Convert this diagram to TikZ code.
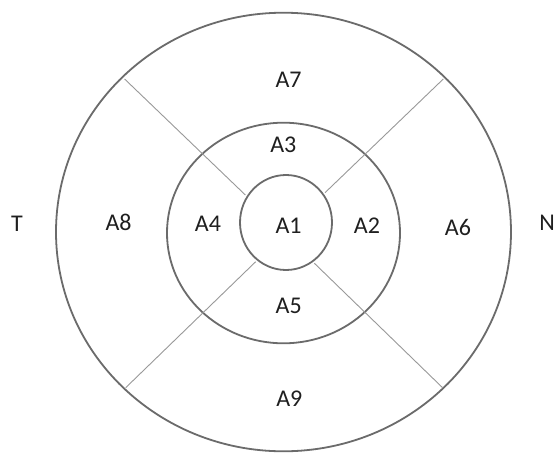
\documentclass[tikz,border=0pt]{standalone}
\usepackage{fontspec}
\setmainfont{Carlito}
\begin{document}
\begin{tikzpicture}[x=1pt,y=-1pt,
  ring/.style={draw=black!58,line width=1.8pt},
  divider/.style={draw=black!40,line width=0.9pt},
  lbl/.style={inner sep=0pt,text=black!88,font=\fontsize{24}{28}\selectfont}]
\useasboundingbox[fill=white] (0,0) rectangle (555,453);
% rings
\draw[ring] (283.5,232) ellipse [x radius=227.5pt, y radius=219.3pt];
\draw[ring] (283.5,233) ellipse [x radius=116.5pt, y radius=110.3pt];
\draw[ring] (286,222.5) ellipse [x radius=46pt, y radius=47.5pt];
% divider end points
\coordinate (ulo) at (124.6,79);
\coordinate (uli) at (245.4,195);
\coordinate (uro) at (443.3,79);
\coordinate (uri) at (325,192.7);
\coordinate (llo) at (125.7,387.7);
\coordinate (lli) at (255.7,261.7);
\coordinate (lro) at (442.6,387.7);
\coordinate (lri) at (314.4,263.3);
\draw[divider] (uli) -- (ulo);
\draw[divider] (uri) -- (uro);
\draw[divider] (lli) -- (llo);
\draw[divider] (lri) -- (lro);
% labels
\node[lbl] (a7) at (288.6,80) {A7};
\node[lbl] (a3) at (283.3,145) {A3};
\node[lbl] (t) at (17,224) {T};
\node[lbl] (a8) at (118.6,222.7) {A8};
\node[lbl] (a4) at (207.9,224) {A4};
\node[lbl] (a1) at (288.6,225.7) {A1};
\node[lbl] (a2) at (367,225.7) {A2};
\node[lbl] (a6) at (457.9,227.7) {A6};
\node[lbl] (n) at (547,222.7) {N};
\node[lbl] (a5) at (288.7,306) {A5};
\node[lbl] (a9) at (289.3,398.3) {A9};
\end{tikzpicture}
\end{document}
